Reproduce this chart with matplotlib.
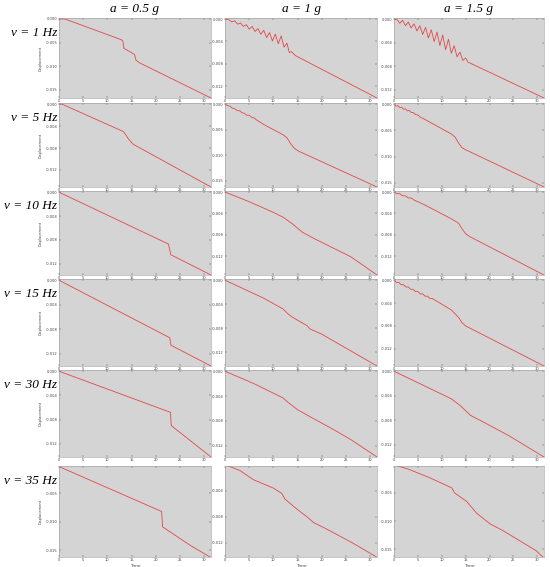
import matplotlib
matplotlib.use("Agg")
import matplotlib.pyplot as plt
from matplotlib.ticker import MaxNLocator, FormatStrFormatter, MultipleLocator

freq_labels = ["1", "5", "10", "15", "30", "35"]
accel_labels = ["0.5", "1", "1.5"]

# ---- data (time [s], displacement) ----
t_r1c1 = [0, 1.2, 12.9, 13.2, 13.4, 15.6, 15.9, 16.5, 31.4]
d_r1c1 = [0, 0, -0.0044, -0.0047, -0.0062, -0.0075, -0.0087, -0.0092, -0.0167]

t_r1c2 = [0, 0.8, 1.4, 2.0, 2.6, 3.2, 3.8, 4.4, 5.0, 5.6, 6.2, 6.8, 7.4, 8.0, 8.6, 9.2,
          9.8, 10.4, 11.0, 11.6, 12.2, 12.8, 13.3, 13.7, 14.5, 31.4]
d_r1c2 = [0, -0.0001, -0.0005, -0.0003, -0.0009, -0.0007, -0.0013, -0.0010, -0.0018,
          -0.0013, -0.0022, -0.0017, -0.0027, -0.0020, -0.0033, -0.0024, -0.0039, -0.0027,
          -0.0044, -0.0030, -0.0050, -0.0043, -0.0060, -0.0058, -0.0065, -0.0141]

t_r1c3 = [0, 0.7, 1.2, 1.8, 2.4, 3.0, 3.6, 4.2, 4.8, 5.4, 6.0, 6.6, 7.2, 7.8, 8.4, 9.0,
          9.6, 10.2, 10.8, 11.4, 12.0, 12.6, 13.2, 13.8, 14.4, 15.0, 15.5, 31.4]
d_r1c3 = [0, -0.0001, -0.0007, -0.0002, -0.0011, -0.0005, -0.0015, -0.0008, -0.0020,
          -0.0011, -0.0026, -0.0014, -0.0032, -0.0018, -0.0038, -0.0022, -0.0045, -0.0027,
          -0.0052, -0.0034, -0.0058, -0.0045, -0.0064, -0.0056, -0.0070, -0.0066, -0.0073,
          -0.0134]

t_r2c1 = [0, 0.6, 13.3, 13.8, 14.3, 15.0, 15.3, 31.4]
d_r2c1 = [0, 0, -0.0050, -0.0056, -0.0063, -0.0070, -0.0073, -0.0151]

t_r2c2 = [0, 0.5, 1, 1.5, 2, 2.5, 3, 3.5, 4, 4.5, 5, 5.5, 6, 6.5, 7, 8, 9, 10, 11, 12,
          12.8, 13.6, 14.4, 15.2, 31.4]
d_r2c2 = [0, -0.0003, -0.0004, -0.0008, -0.0009, -0.0013, -0.0013, -0.0017, -0.0018,
          -0.0022, -0.0022, -0.0026, -0.0027, -0.0031, -0.0034, -0.0040, -0.0045, -0.0050,
          -0.0055, -0.0060, -0.0066, -0.0078, -0.0087, -0.0092, -0.0162]

t_r2c3 = [0, 0.4, 0.8, 1.2, 1.6, 2.0, 2.4, 2.8, 3.2, 3.6, 4.0, 4.5, 5, 5.5, 6, 7, 8, 9,
          10, 11, 12, 12.8, 13.5, 14.2, 15, 31.4]
d_r2c3 = [0, -0.0004, -0.0003, -0.0007, -0.0006, -0.0010, -0.0009, -0.0013, -0.0012,
          -0.0016, -0.0016, -0.0020, -0.0021, -0.0025, -0.0027, -0.0032, -0.0037, -0.0042,
          -0.0047, -0.0052, -0.0057, -0.0063, -0.0074, -0.0083, -0.0087, -0.0158]

t_r3c1 = [0, 22.6, 23.1, 31.4]
d_r3c1 = [0, -0.0087, -0.0105, -0.0139]

t_r3c2 = [0, 5, 10, 12, 14, 16, 18, 22, 26, 31.4]
d_r3c2 = [0, -0.0018, -0.0038, -0.0047, -0.0060, -0.0075, -0.0085, -0.0103, -0.0121, -0.0155]

t_r3c3 = [0, 0.6, 1.2, 1.8, 2.4, 3.0, 3.6, 4.2, 6, 9, 12, 13.5, 14.2, 15, 15.8, 31.4]
d_r3c3 = [0, -0.0003, -0.0003, -0.0007, -0.0007, -0.0011, -0.0011, -0.0015, -0.0022,
          -0.0036, -0.0050, -0.0058, -0.0068, -0.0078, -0.0083, -0.0155]

t_r4c1 = [0, 22.9, 23.1, 31.4]
d_r4c1 = [0, -0.0094, -0.0106, -0.0140]

t_r4c2 = [0, 8, 12, 13, 14, 17, 17.5, 20, 31.4]
d_r4c2 = [0, -0.0030, -0.0048, -0.0056, -0.0062, -0.0076, -0.0081, -0.0090, -0.0143]

t_r4c3 = [0, 0.5, 1, 1.5, 2, 2.5, 3, 3.5, 4, 4.5, 5, 5.5, 6, 6.5, 7, 7.5, 8, 9, 10, 11,
          12, 13.5, 14.2, 15, 31.4]
d_r4c3 = [0, -0.0004, -0.0004, -0.0008, -0.0008, -0.0012, -0.0012, -0.0016, -0.0016,
          -0.0020, -0.0020, -0.0024, -0.0024, -0.0028, -0.0028, -0.0032, -0.0032, -0.0037,
          -0.0042, -0.0047, -0.0052, -0.0065, -0.0074, -0.0080, -0.0150]

t_r5c1 = [0, 23.0, 23.2, 31.4]
d_r5c1 = [0, -0.0068, -0.0090, -0.0142]

t_r5c2 = [0, 6, 12, 13, 15, 18, 22, 26, 31.4]
d_r5c2 = [0, -0.0020, -0.0043, -0.0050, -0.0062, -0.0075, -0.0092, -0.0110, -0.0138]

t_r5c3 = [0, 8, 12, 14, 16, 18, 24, 31.4]
d_r5c3 = [0, -0.0030, -0.0045, -0.0057, -0.0072, -0.0080, -0.0105, -0.0140]

t_r6c1 = [0, 21.2, 21.4, 27.2, 31.2]
d_r6c1 = [-0.0003, -0.0082, -0.0109, -0.0142, -0.0162]

t_r6c2 = [0, 3.1, 5.85, 10.0, 11.7, 12.4, 14.8, 16.9, 18.3, 21.0, 26.5, 31.3]
d_r6c2 = [0, -0.0009, -0.0023, -0.0036, -0.0044, -0.0053, -0.0068, -0.0080, -0.0089,
          -0.0099, -0.0121, -0.0142]

t_r6c3 = [0, 3.0, 7.5, 12.1, 12.7, 15.2, 17.3, 20.1, 22.8, 26.3, 29.8, 30.5, 31.2]
d_r6c3 = [0, -0.00076, -0.0023, -0.0041, -0.0050, -0.0065, -0.0086, -0.0105, -0.0117,
          -0.0135, -0.0153, -0.0159, -0.0164]

series = [
    [(t_r1c1, d_r1c1), (t_r1c2, d_r1c2), (t_r1c3, d_r1c3)],
    [(t_r2c1, d_r2c1), (t_r2c2, d_r2c2), (t_r2c3, d_r2c3)],
    [(t_r3c1, d_r3c1), (t_r3c2, d_r3c2), (t_r3c3, d_r3c3)],
    [(t_r4c1, d_r4c1), (t_r4c2, d_r4c2), (t_r4c3, d_r4c3)],
    [(t_r5c1, d_r5c1), (t_r5c2, d_r5c2), (t_r5c3, d_r5c3)],
    [(t_r6c1, d_r6c1), (t_r6c2, d_r6c2), (t_r6c3, d_r6c3)],
]

# y tick spacing per panel
ytick_step = [
    [0.005, 0.004, 0.004],
    [0.004, 0.005, 0.005],
    [0.004, 0.004, 0.004],
    [0.004, 0.004, 0.004],
    [0.004, 0.004, 0.004],
    [0.005, 0.004, 0.005],
]

# ---- layout (pixels) ----
W, H = 550, 567
col_x = [(59, 211), (225, 377), (394, 544)]
row_y = [(18, 98), (103, 187), (191, 275), (279, 366), (370, 457), (466, 557)]

fig = plt.figure(figsize=(W / 100, H / 100), dpi=100)
fig.patch.set_facecolor("white")

serif = ["Liberation Serif", "DejaVu Serif"]
line_color = "#e24848"
bg = "#d4d4d4"

for r in range(6):
    y0, y1 = row_y[r]
    for c in range(3):
        x0, x1 = col_x[c]
        ax = fig.add_axes([x0 / W, 1 - y1 / H, (x1 - x0) / W, (y1 - y0) / H])
        ax.set_facecolor(bg)
        t, d = series[r][c]
        ax.plot(t, d, color=line_color, lw=0.6, solid_joinstyle="round")
        ax.set_xlim(0, 31.4)
        lo, hi = min(d), max(d)
        if r == 5:
            hi = -0.0004
        ax.set_ylim(lo, hi + 0.0002)
        ax.xaxis.set_major_locator(MultipleLocator(5))
        ax.yaxis.set_major_locator(MultipleLocator(ytick_step[r][c]))
        ax.yaxis.set_major_formatter(FormatStrFormatter("%.3f"))
        ax.tick_params(axis="both", which="major", labelsize=2.6, length=1.2,
                       width=0.3, pad=1.0, colors="#444444", direction="in",
                       right=True, top=True)
        for s in ax.spines.values():
            s.set_linewidth(0.4)
            s.set_color("#9a9a9a")
        if c == 0:
            ax.set_ylabel("Displacement", fontsize=2.6, labelpad=2, color="#444444")
        if r == 5:
            ax.set_xlabel("Time", fontsize=3.2, labelpad=1, color="#444444")

# column titles
for c, a in enumerate(accel_labels):
    xc = (col_x[c][0] + col_x[c][1]) / 2
    fig.text(xc / W, 1 - 9 / H, f"a = {a} g", ha="center", va="center",
             fontsize=9.5, style="italic", family=serif)

# row labels
for r, v in enumerate(freq_labels):
    yc = row_y[r][0] + 15
    fig.text(57 / W, 1 - yc / H, f"v = {v} Hz", ha="right", va="center",
             fontsize=9.5, style="italic", family=serif)

fig.savefig("out.png", dpi=100, facecolor="white")
